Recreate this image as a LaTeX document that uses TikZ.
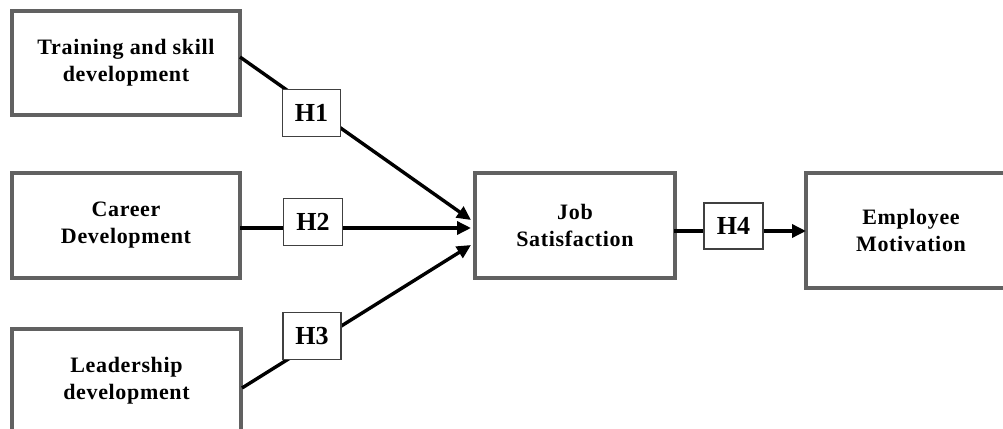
\documentclass[tikz,border=0pt]{standalone}
\usepackage{fontspec}
\setmainfont{Liberation Serif}
\usetikzlibrary{arrows.meta,calc}
\begin{document}
\begin{tikzpicture}[x=1pt,y=-1pt,
  varbox/.style={draw=black!62,line width=3.2pt,fill=white,inner sep=0pt,align=center,
    font=\bfseries\addfontfeatures{LetterSpace=3}\fontsize{22}{27}\selectfont},
  hbox/.style={draw=black!75,line width=1.3pt,fill=white,inner sep=0pt,
    minimum width=58pt,minimum height=47pt,font=\bfseries\fontsize{26}{30}\selectfont},
  link/.style={line width=3.4pt,black},
  arr/.style={link,-{Triangle[length=14pt,width=13pt]}}]
\path[use as bounding box,clip] (0,0) rectangle (1003,428);
\fill[white] (0,0) rectangle (1003,428);
% variable boxes
\node[varbox,minimum width=228pt,minimum height=104pt] (b1) at (126,63)
  {\fontsize{22}{20}\selectfont Training and skill\\development};
\node[varbox,minimum width=228pt,minimum height=105pt] (b2) at (126,225.5)
  {Career\\Development};
\node[varbox,minimum width=229pt,minimum height=104pt] (b3) at (126.5,381)
  {Leadership\\development};
\node[varbox,minimum width=200pt,minimum height=105pt] (js) at (575,225.5)
  {Job\\Satisfaction};
\node[varbox,minimum width=210pt,minimum height=115pt] (em) at (911,230.5)
  {Employee\\Motivation};
% connector ends
\coordinate (s1) at (240,57);
\coordinate (s2) at (240,228);
\coordinate (s3) at (242,388);
\coordinate (t1) at (471,220);
\coordinate (t2) at (471,228);
\coordinate (t3) at (471,245);
\coordinate (s4) at (674,231);
\coordinate (t4) at (806,231);
\draw[arr] (s1) -- (t1);
\draw[arr] (s2) -- (t2);
\draw[arr] (s3) -- (t3);
\draw[arr] (s4) -- (t4);
% hypothesis labels
\node[hbox] (h1) at (311.5,113) {H1};
\node[hbox,minimum width=59pt] (h2) at (313,222) {H2};
\node[hbox] (h3) at (312,336) {H3};
\node[hbox,minimum width=59pt,minimum height=46pt] (h4) at (733.5,226) {H4};
\end{tikzpicture}
\end{document}
